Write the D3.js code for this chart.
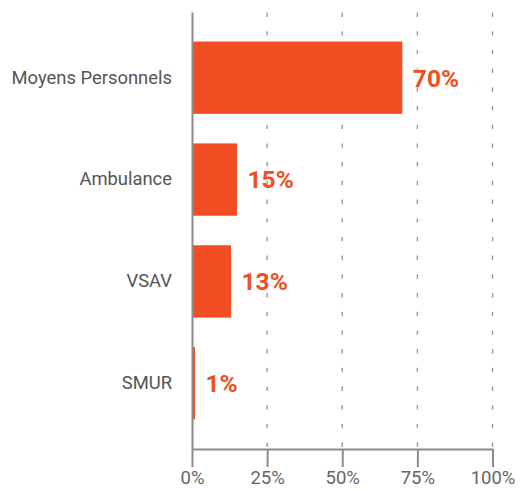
<!DOCTYPE html>
<html>
<head>
<meta charset="utf-8">
<script src="https://cdn.jsdelivr.net/npm/d3@7"></script>
<style>
  html, body { margin: 0; padding: 0; background: #fff; }
  svg { display: block; font-family: Roboto, "Noto Sans", sans-serif; }
</style>
</head>
<body>
<svg id="chart" width="521" height="491"></svg>
<script>
const categories = ["Moyens Personnels", "Ambulance", "VSAV", "SMUR"];
const values = [70, 15, 13, 1];
const tickValues = [0, 25, 50, 75, 100];
const tickLabels = ["0%", "25%", "50%", "75%", "100%"];

const svg = d3.select("#chart");
const x = d3.scaleLinear().domain([0, 100]).range([192, 492.5]);
const y = d3.scaleBand().domain(categories).range([12, 449]).paddingInner(0.29).paddingOuter(0.29);

// gridlines
svg.append("g").selectAll("line")
  .data(tickValues.slice(1))
  .join("line")
  .attr("x1", d => x(d)).attr("x2", d => x(d))
  .attr("y1", 12.5).attr("y2", 449)
  .attr("stroke", "#9a9a9a").attr("stroke-width", 1.4)
  .attr("stroke-dasharray", "4.4,14.3");

// bars
svg.append("g").selectAll("rect")
  .data(values)
  .join("rect")
  .attr("x", x(0))
  .attr("y", (d, i) => y(categories[i]))
  .attr("width", d => x(d) - x(0))
  .attr("height", y.bandwidth())
  .attr("fill", "#f14e23");

// value labels
svg.append("g").selectAll("text")
  .data(values)
  .join("text")
  .attr("x", d => x(d) + 10.5)
  .attr("y", (d, i) => y(categories[i]) + y.bandwidth() / 2)
  .attr("dy", "0.36em")
  .attr("fill", "#f14e23")
  .attr("font-size", 24.5)
  .attr("font-weight", 700)
  .text(d => d + "%");

// bottom axis
const xAxis = d3.axisBottom(x)
  .tickValues(tickValues)
  .tickFormat((d, i) => tickLabels[i])
  .tickSize(18)
  .tickSizeOuter(0)
  .tickPadding(4);
const gx = svg.append("g").attr("transform", "translate(0,449)").call(xAxis);
gx.select(".domain").attr("stroke", "#8c8c8c").attr("stroke-width", 2);
gx.selectAll(".tick line").attr("stroke", "#8c8c8c").attr("stroke-width", 2);
gx.selectAll(".tick text").attr("fill", "#666").attr("font-size", 18.5).attr("font-family", "Roboto, sans-serif");

// left axis
const yAxis = d3.axisLeft(y).tickSize(0).tickPadding(20);
const gy = svg.append("g").attr("transform", "translate(192,0)").call(yAxis);
gy.select(".domain").attr("stroke", "#8c8c8c").attr("stroke-width", 2);
gy.selectAll(".tick text").attr("fill", "#555").attr("font-size", 18.4).attr("font-family", "Roboto, sans-serif");
</script>
</body>
</html>
